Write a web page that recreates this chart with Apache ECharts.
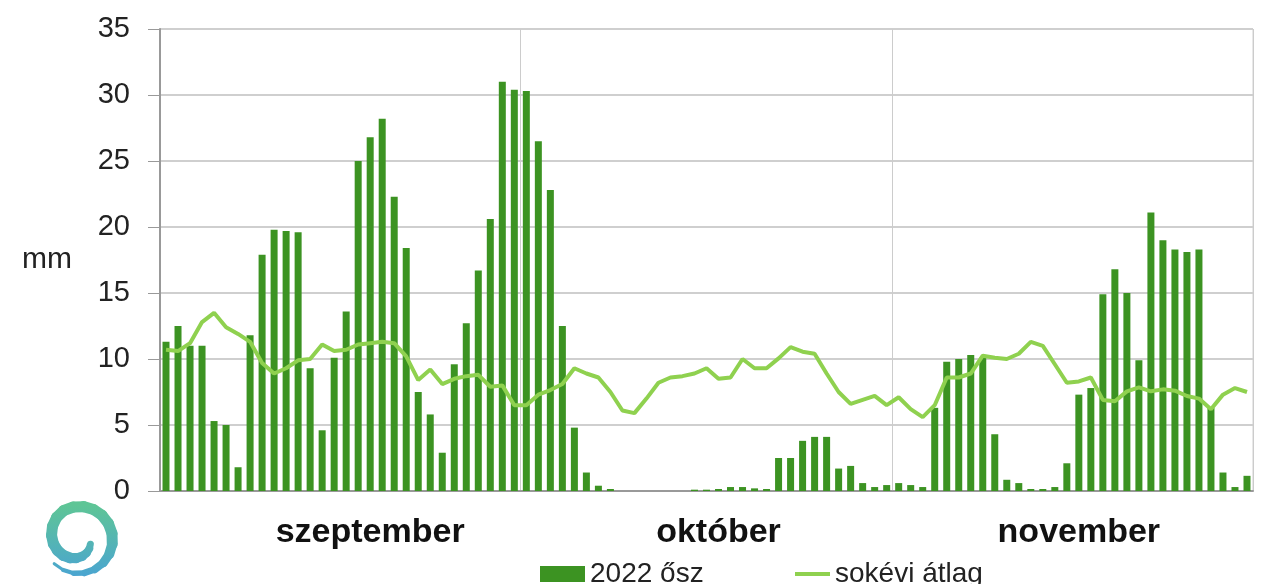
<!DOCTYPE html>
<html>
<head>
<meta charset="utf-8">
<script src="https://cdn.jsdelivr.net/npm/echarts@6/dist/echarts.min.js"></script>
<style>
  html, body { margin: 0; padding: 0; background: #fff; }
  #chart { width: 1267px; height: 584px; }
</style>
</head>
<body>
<div id="chart"></div>
<script>
// daily precipitation, autumn 2022 (mm)
const sep2022 = [11.3, 12.5, 11.0, 11.0, 5.3, 5.0, 1.8, 11.8, 17.9, 19.8,
  19.7, 19.6, 9.3, 4.6, 10.1, 13.6, 25.0, 26.8, 28.2, 22.3,
  18.4, 7.5, 5.8, 2.9, 9.6, 12.7, 16.7, 20.6, 31.0, 30.4];
const oct2022 = [30.3, 26.5, 22.8, 12.5, 4.8, 1.4, 0.4, 0.15, 0, 0,
  0, 0, 0, 0, 0.1, 0.1, 0.15, 0.3, 0.3, 0.2,
  0.15, 2.5, 2.5, 3.8, 4.1, 4.1, 1.7, 1.9, 0.6, 0.3, 0.45];
const nov2022 = [0.6, 0.45, 0.3, 6.3, 9.8, 10.0, 10.3, 10.1, 4.3, 0.85,
  0.6, 0.15, 0.15, 0.3, 2.1, 7.3, 7.8, 14.9, 16.8, 15.0,
  9.9, 21.1, 19.0, 18.3, 18.1, 18.3, 6.3, 1.4, 0.3, 1.15];

// long-term average
const sepAvg = [10.7, 10.6, 11.2, 12.8, 13.5, 12.4, 11.9, 11.3, 9.7, 8.9,
  9.3, 9.9, 10.0, 11.1, 10.6, 10.7, 11.1, 11.2, 11.3, 11.2,
  10.2, 8.4, 9.2, 8.1, 8.5, 8.7, 8.8, 7.9, 8.0, 6.5];
const octAvg = [6.5, 7.3, 7.65, 8.1, 9.3, 8.9, 8.6, 7.5, 6.1, 5.9,
  7.0, 8.2, 8.6, 8.7, 8.9, 9.3, 8.5, 8.6, 10.0, 9.3,
  9.3, 10.05, 10.9, 10.55, 10.4, 8.9, 7.5, 6.6, 6.9, 7.2, 6.5];
const novAvg = [7.1, 6.2, 5.6, 6.5, 8.6, 8.6, 8.9, 10.25, 10.1, 10.0,
  10.4, 11.3, 11.0, 9.6, 8.2, 8.3, 8.6, 6.9, 6.8, 7.55,
  7.85, 7.55, 7.7, 7.6, 7.2, 7.0, 6.2, 7.3, 7.8, 7.5];

const monthNames = ['szeptember', 'október', 'november'];
const monthLabelDay = [17, 46, 76];   // category index under which the month name sits
const monthStarts = [30, 61];         // category index where a new month begins
const yTicks = [0, 5, 10, 15, 20, 25, 30, 35];

const days = [];
[[9, sep2022.length], [10, oct2022.length], [11, nov2022.length]].forEach(function (m) {
  for (let d = 1; d <= m[1]; d++) days.push(m[0] + '.' + d);
});
const rain = sep2022.concat(oct2022, nov2022);
const avg = sepAvg.concat(octAvg, novAvg);

// little spiral logo, bottom left
function spiralLogo() {
  const cx = 79, cy = 539, parts = [], n = 26;
  const grad = new echarts.graphic.LinearGradient(0, 505, 0, 578, [
    { offset: 0, color: '#5ec596' }, { offset: 1, color: '#4aa4d2' }
  ], true);
  let prev = null;
  for (let i = 0; i <= n; i++) {
    const t = i / n;
    const a = (135 - 470 * t) * Math.PI / 180;
    const r = t < 0.55 ? 35 - 5 * t : 32.3 - 44 * (t - 0.55);
    const p = [cx + r * Math.cos(a), cy + r * Math.sin(a)];
    if (prev) {
      const w = t < 0.3 ? 2 + 30 * t : (t < 0.8 ? 11 : 11 - 20 * (t - 0.8));
      parts.push({
        type: 'polyline',
        shape: { points: [prev, p] },
        style: { stroke: grad, lineWidth: w, lineCap: 'round', fill: null }
      });
    }
    prev = p;
  }
  return parts;
}

const chart = echarts.init(document.getElementById('chart'));
chart.setOption({
  animation: false,
  textStyle: { fontFamily: 'Liberation Sans, Arial, sans-serif' },
  grid: {
    left: 160, right: 14, top: 29, bottom: 93,
    show: true, borderColor: '#d0d0d0', borderWidth: 1
  },
  legend: [
    {
      left: 540, top: 560, padding: 0,
      itemWidth: 45, itemHeight: 16,
      textStyle: { fontSize: 28, color: '#222' },
      data: [{ name: '2022 ősz', icon: 'rect' }]
    },
    {
      left: 795, top: 560, padding: 0,
      itemWidth: 35, itemHeight: 4,
      textStyle: { fontSize: 28, color: '#222' },
      data: [{ name: 'sokévi átlag', icon: 'rect' }]
    }
  ],
  xAxis: {
    type: 'category',
    data: days,
    boundaryGap: true,
    axisLine: { lineStyle: { color: '#999', width: 2 } },
    axisTick: {
      length: 10,
      lineStyle: { color: '#999' },
      interval: function (i) { return i === 0 || monthStarts.indexOf(i) >= 0; }
    },
    splitLine: {
      show: true,
      lineStyle: { color: '#cccccc', width: 1 },
      interval: function (i) { return monthStarts.indexOf(i) >= 0; }
    },
    axisLabel: {
      interval: function (i) { return monthLabelDay.indexOf(i) >= 0; },
      formatter: function (v, i) {
        const k = monthLabelDay.indexOf(i);
        return k >= 0 ? monthNames[k] : '';
      },
      margin: 25,
      fontSize: 34,
      fontWeight: 'bold',
      color: '#111'
    }
  },
  yAxis: {
    type: 'value',
    min: yTicks[0], max: yTicks[yTicks.length - 1], interval: 5,
    name: 'mm',
    nameLocation: 'middle',
    nameRotate: 0,
    nameGap: 88,
    nameTextStyle: { fontSize: 30, color: '#222' },
    axisLine: { show: true, lineStyle: { color: '#999', width: 2 } },
    axisTick: { show: true, length: 12, lineStyle: { color: '#999' } },
    axisLabel: { fontSize: 29, color: '#222', margin: 30 },
    splitLine: { lineStyle: { color: '#cfcfcf', width: 2 } }
  },
  series: [
    {
      name: '2022 ősz',
      type: 'bar',
      data: rain,
      barWidth: 7,
      itemStyle: { color: '#3c9322' }
    },
    {
      name: 'sokévi átlag',
      type: 'line',
      data: avg,
      showSymbol: false,
      symbol: 'none',
      z: 3,
      lineStyle: { color: '#8fd14f', width: 4 },
      itemStyle: { color: '#8fd14f' }
    }
  ],
  graphic: spiralLogo()
});
</script>
</body>
</html>
